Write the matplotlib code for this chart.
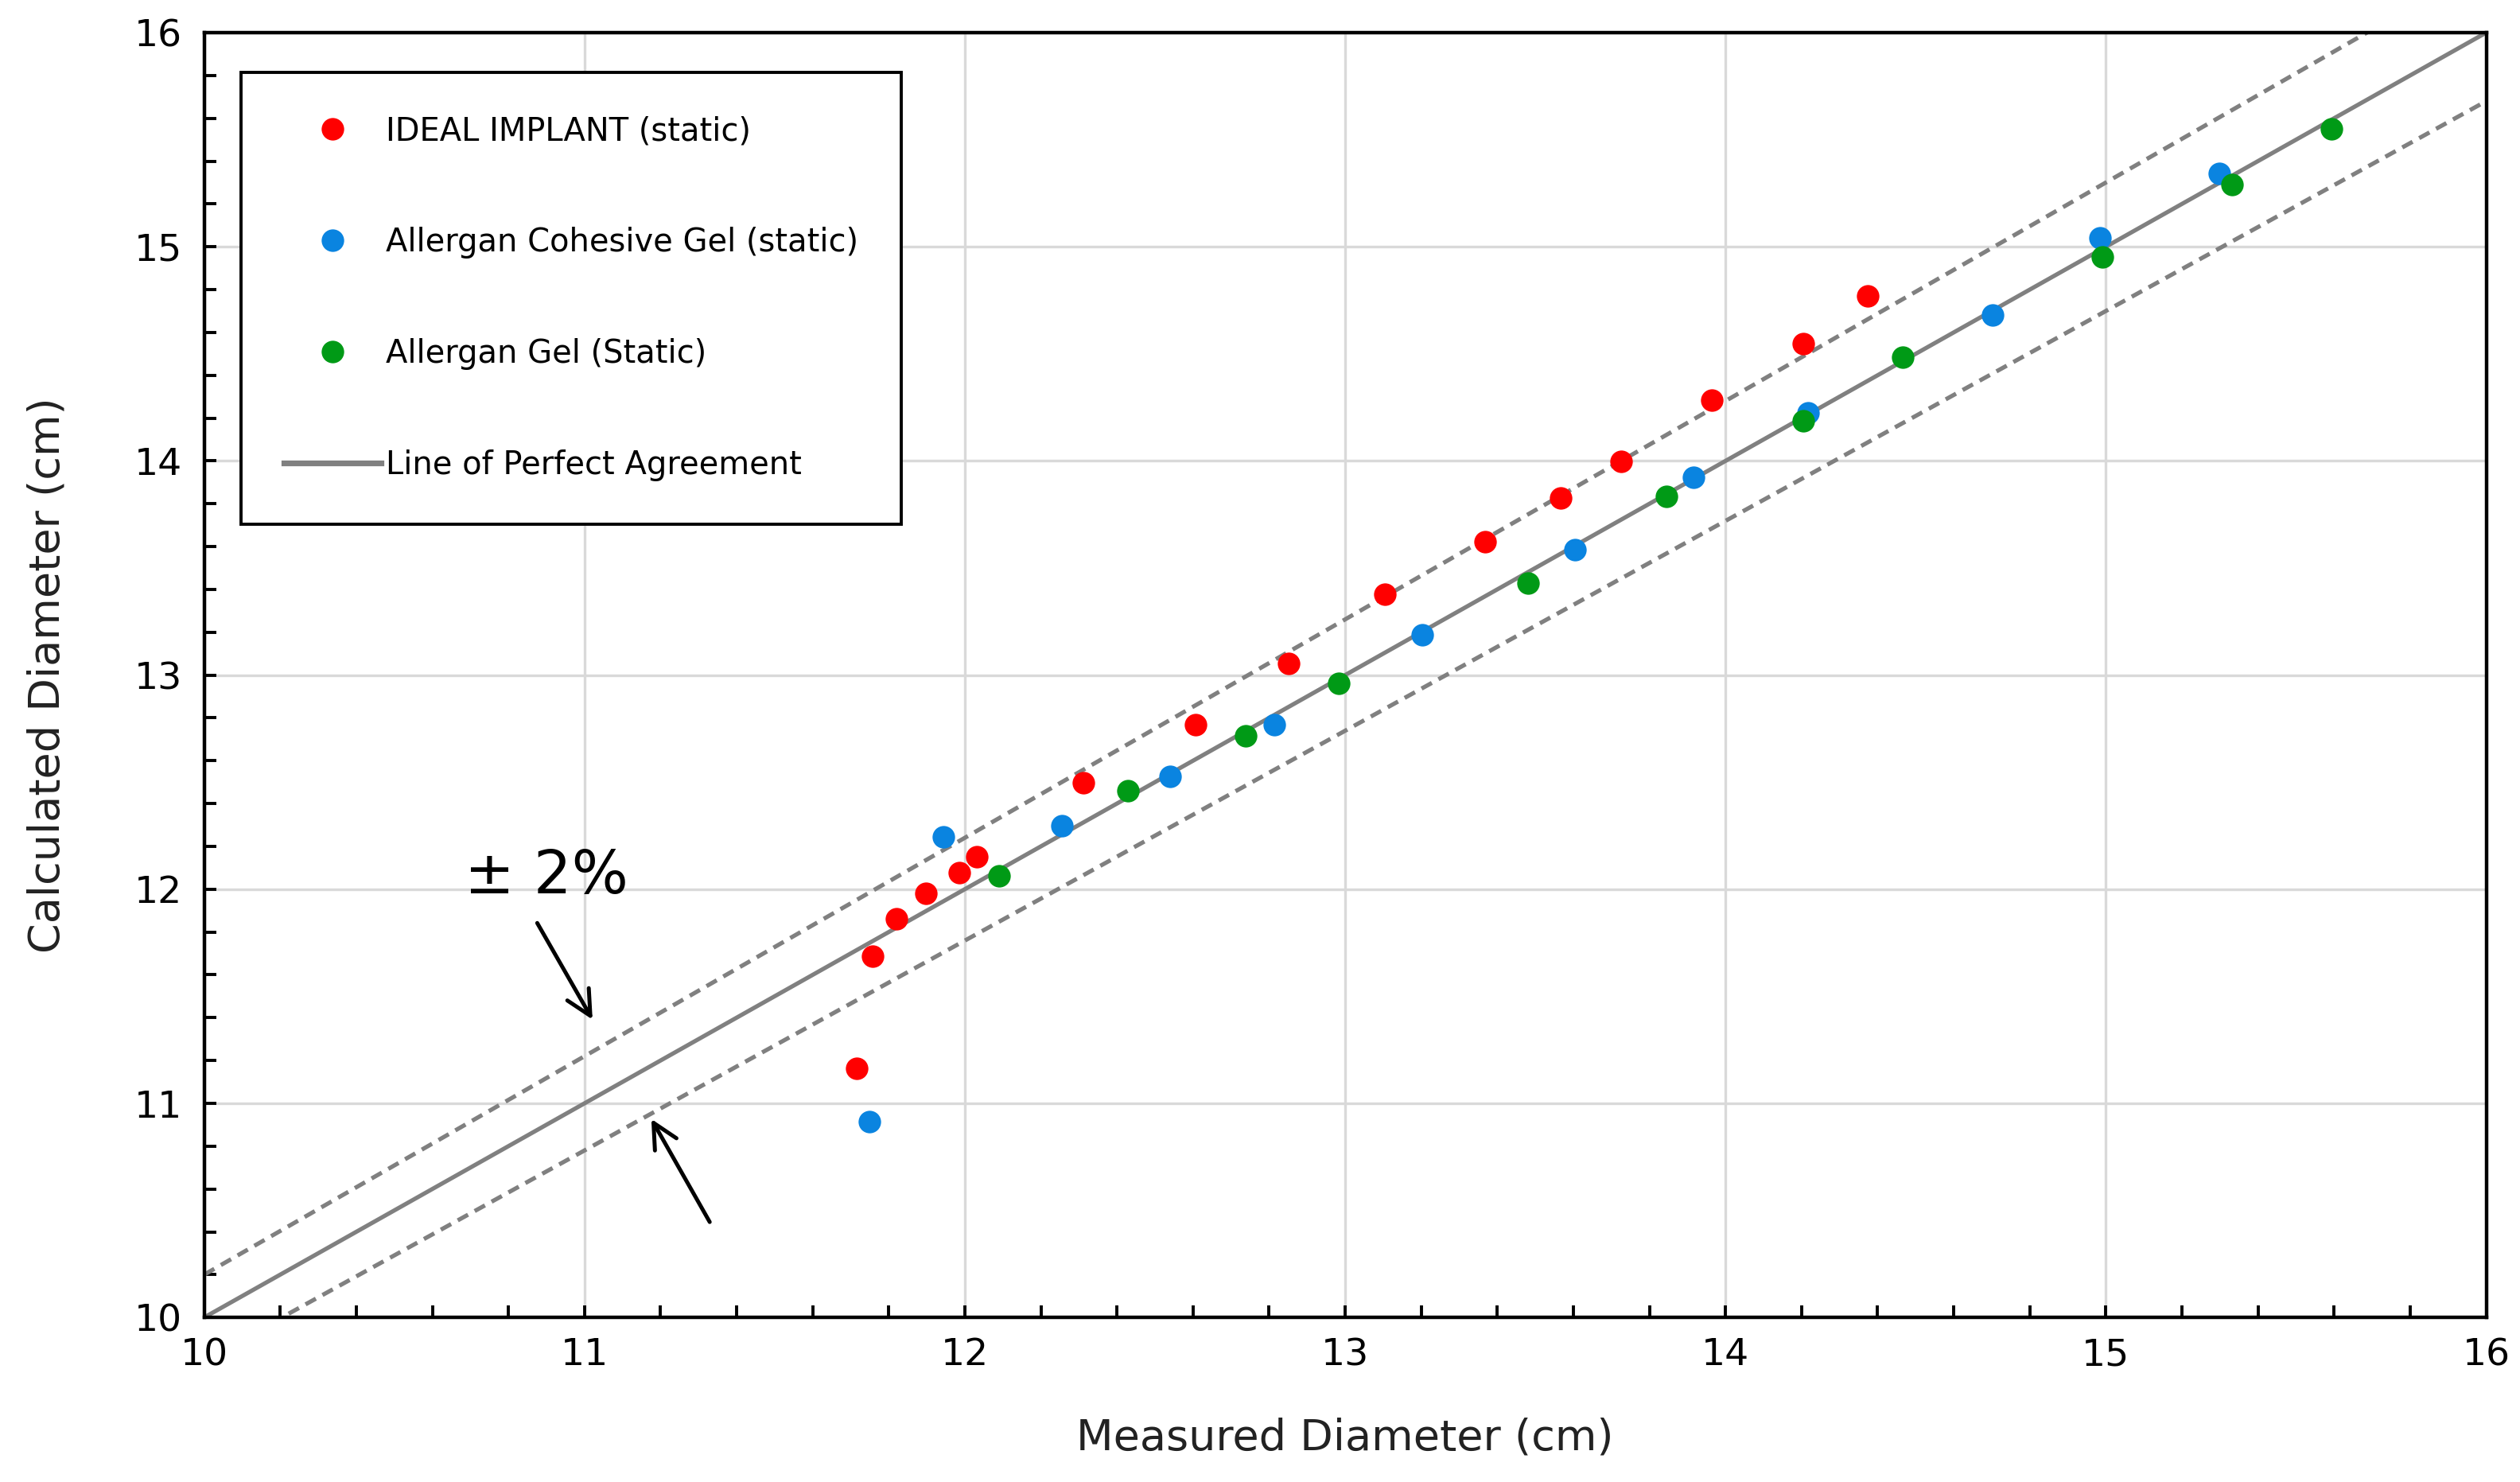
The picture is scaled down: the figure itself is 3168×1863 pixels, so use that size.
import matplotlib
matplotlib.use('Agg')
import matplotlib.pyplot as plt
from matplotlib.ticker import MultipleLocator
import numpy as np

# data (cm)
ideal_x = [11.715, 11.757, 11.821, 11.897, 11.986, 12.032, 12.311, 12.607, 12.852,
           13.105, 13.367, 13.566, 13.726, 13.963, 14.204, 14.373]
ideal_y = [11.163, 11.688, 11.860, 11.980, 12.078, 12.153, 12.498, 12.768, 13.053,
           13.376, 13.623, 13.826, 13.998, 14.284, 14.546, 14.771]

cohesive_x = [11.749, 11.943, 12.256, 12.539, 12.814, 13.202, 13.604, 13.916,
              14.216, 14.702, 14.985, 15.298]
cohesive_y = [10.915, 12.243, 12.296, 12.528, 12.768, 13.188, 13.586, 13.923,
              14.223, 14.681, 15.041, 15.341]

gel_x = [12.091, 12.429, 12.738, 12.983, 13.481, 13.845, 14.204, 14.466,
         14.990, 15.332, 15.594]
gel_y = [12.063, 12.461, 12.716, 12.963, 13.428, 13.833, 14.186, 14.486,
         14.951, 15.289, 15.551]

line_x = np.array([10.0, 16.0])
band = 0.02

fig = plt.figure(figsize=(15.84, 9.315), dpi=200)
ax = fig.add_axes([0.081, 0.111, 0.9056, 0.867])

grey = '#808080'
ax.plot(line_x, line_x, '-', color=grey, lw=1.9, label='Line of Perfect Agreement', zorder=2)
ax.plot(line_x, line_x * (1 + band), '--', color=grey, lw=1.9, dashes=(2.8, 1.8), zorder=2)
ax.plot(line_x, line_x * (1 - band), '--', color=grey, lw=1.9, dashes=(2.8, 1.8), zorder=2)

ms = 10.2
ax.plot(ideal_x, ideal_y, 'o', color='#ff0000', ms=ms, mew=0,
        label='IDEAL IMPLANT (static)', zorder=3)
ax.plot(cohesive_x, cohesive_y, 'o', color='#0a84e0', ms=ms, mew=0,
        label='Allergan Cohesive Gel (static)', zorder=3)
ax.plot(gel_x, gel_y, 'o', color='#009a16', ms=ms, mew=0,
        label='Allergan Gel (Static)', zorder=3)

ax.set_xlim(10, 16)
ax.set_ylim(10, 16)
ax.xaxis.set_major_locator(MultipleLocator(1))
ax.yaxis.set_major_locator(MultipleLocator(1))
ax.xaxis.set_minor_locator(MultipleLocator(0.2))
ax.yaxis.set_minor_locator(MultipleLocator(0.2))
ax.grid(True, which='major', color='#d9d9d9', lw=1.2, zorder=0)
ax.set_axisbelow(True)
ax.tick_params(which='both', direction='in', length=5.5, width=1.4,
               top=False, right=False, labelsize=17)
ax.tick_params(axis='x', pad=9)
ax.tick_params(axis='y', pad=10)
for sp in ax.spines.values():
    sp.set_linewidth(1.6)
    sp.set_color('black')

ax.set_xlabel('Measured Diameter (cm)', fontsize=19.5, color='#222222', labelpad=20)
ax.set_ylabel('Calculated Diameter (cm)', fontsize=19.5, color='#222222', labelpad=30)

# legend in the fixed order of the reference
h, l = ax.get_legend_handles_labels()
order = [1, 2, 3, 0]
leg = ax.legend([h[i] for i in order], [l[i] for i in order],
                loc='upper left', bbox_to_anchor=(0.016, 0.969), borderaxespad=0,
                fancybox=False, edgecolor='black', framealpha=1, fontsize=14.4,
                labelspacing=2.5, borderpad=1.35, handlelength=3.05,
                handletextpad=0.15)
leg.get_frame().set_linewidth(1.4)
leg.get_lines()[3].set_linewidth(2.6)

ax.text(10.685, 11.98, '± 2%', fontsize=27, color='black', ha='left', va='baseline')
ax.annotate('', xy=(11.027, 11.373), xytext=(10.870, 11.860),
            arrowprops=dict(arrowstyle='->', color='black', lw=1.8,
                            mutation_scale=28))
ax.annotate('', xy=(11.170, 10.945), xytext=(11.335, 10.428),
            arrowprops=dict(arrowstyle='->', color='black', lw=1.8,
                            mutation_scale=28))

fig.savefig('out.png', dpi=200)
